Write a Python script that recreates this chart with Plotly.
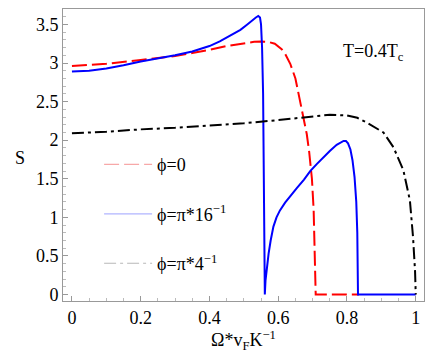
import plotly.graph_objects as go

# phi = 0 (red dashed)
x_phi0 = [0, 0.1, 0.2, 0.3, 0.35, 0.4, 0.45, 0.5, 0.53, 0.55, 0.57, 0.59, 0.6, 0.61, 0.62, 0.635,
          0.65, 0.664, 0.675, 0.683, 0.69, 0.698, 0.703, 0.707, 0.709, 0.75, 0.8, 0.835]
s_phi0 = [2.96, 2.99, 3.04, 3.09, 3.13, 3.17, 3.22, 3.26, 3.275, 3.28, 3.275, 3.25, 3.22, 3.18, 3.12, 2.99,
          2.8, 2.51, 2.28, 2.08, 1.85, 1.5, 1.1, 0.53, 0, 0, 0, 0]

# phi = pi/16 (blue solid)
x_phi16 = [0, 0.05, 0.1, 0.15, 0.2, 0.25, 0.3, 0.35, 0.4, 0.43, 0.46, 0.49, 0.51, 0.525, 0.535,
           0.542, 0.547, 0.55, 0.553, 0.556, 0.558, 0.5595, 0.561, 0.563, 0.567, 0.572, 0.578, 0.586,
           0.595, 0.605, 0.62, 0.635, 0.654, 0.675, 0.693, 0.712, 0.731, 0.75, 0.77, 0.78, 0.79,
           0.797, 0.803, 0.81, 0.816, 0.822, 0.827, 0.83, 0.832, 0.9, 1.0]
s_phi16 = [2.89, 2.9, 2.93, 2.97, 3.02, 3.06, 3.1, 3.15, 3.22, 3.28, 3.35, 3.43, 3.5, 3.56, 3.59,
           3.61, 3.59, 3.5, 3.2, 2.6, 1.6, 0.8, 0, 0.18, 0.36, 0.53, 0.7, 0.88,
           1.0, 1.09, 1.19, 1.28, 1.38, 1.49, 1.6, 1.69, 1.78, 1.86, 1.94, 1.97, 1.99,
           1.99, 1.96, 1.88, 1.74, 1.52, 1.2, 0.8, 0, 0, 0]

# phi = pi/4 (black dash-dot)
x_phi4 = [0, 0.1, 0.2, 0.3, 0.4, 0.5, 0.6, 0.7, 0.75, 0.8, 0.83, 0.857, 0.88, 0.906, 0.935,
          0.964, 0.983, 0.992, 0.998, 1.0]
s_phi4 = [2.09, 2.11, 2.14, 2.16, 2.19, 2.22, 2.26, 2.31, 2.33, 2.32, 2.29, 2.23, 2.17, 2.1, 1.91,
          1.61, 1.22, 0.75, 0.3, 0]

FONT = "Liberation Serif, Times New Roman, serif"
f18 = dict(family=FONT, size=18, color="black")

fig = go.Figure()

fig.add_trace(go.Scatter(x=x_phi0, y=s_phi0, mode="lines", showlegend=False,
                         line=dict(color="red", width=2, dash="15px,5px")))
fig.add_trace(go.Scatter(x=x_phi16, y=s_phi16, mode="lines", showlegend=False,
                         line=dict(color="blue", width=2)))
fig.add_trace(go.Scatter(x=x_phi4, y=s_phi4, mode="lines", showlegend=False,
                         line=dict(color="black", width=2, dash="12px,4px,3px,4px")))

# legend entries (faded, like the original)
fig.add_trace(go.Scatter(x=[None], y=[None], mode="lines", name="ϕ=0", legendgroup="a",
                         line=dict(color="#f7a8a8", width=1.2, dash="15px,5px")))
fig.add_trace(go.Scatter(x=[None], y=[None], mode="lines", name="ϕ=π*16<sup>−1</sup>", legendgroup="b",
                         line=dict(color="#b0b4ff", width=1.2)))
fig.add_trace(go.Scatter(x=[None], y=[None], mode="lines", name="ϕ=π*4<sup>−1</sup>", legendgroup="c",
                         line=dict(color="#b8b8b8", width=1.2, dash="12px,4px,3px,4px")))

fig.add_annotation(x=0.77, y=0.85, xref="paper", yref="paper", showarrow=False,
                   xanchor="left", yanchor="middle",
                   text="T=0.4T<sub>c</sub>", font=f18)
# upright y label
fig.add_annotation(x=-0.118, y=0.49, xref="paper", yref="paper", showarrow=False,
                   xanchor="center", yanchor="middle", text="S", font=f18)

# page body has an 8px margin, so the figure is 8px smaller than the window
fig.update_layout(
    width=428, height=345,
    margin=dict(l=55, r=12, t=1, b=52),
    paper_bgcolor="white", plot_bgcolor="white",
    font=f18,
    legend=dict(x=0.10, y=0.53, xanchor="left", yanchor="top", bgcolor="rgba(0,0,0,0)",
                tracegroupgap=23, itemwidth=48, font=f18),
)

fig.update_xaxes(range=[-0.026, 1.024], tickvals=[0, 0.2, 0.4, 0.6, 0.8, 1],
                 ticktext=["0", "0.2", "0.4", "0.6", "0.8", "1"], tickfont=f18,
                 showgrid=False, zeroline=False, showline=True, mirror=True,
                 linecolor="#999999", linewidth=1, ticks="inside", ticklen=5, tickcolor="#999999",
                 minor=dict(ticks="inside", ticklen=3, dtick=0.05, tickcolor="#bbbbbb"),
                 title=dict(text="Ω*v<sub>F</sub>K<sup>−1</sup>", standoff=9, font=f18))
fig.update_yaxes(range=[-0.084, 3.7], tickvals=[0, 0.5, 1, 1.5, 2, 2.5, 3, 3.5],
                 ticktext=["0", "0.5", "1", "1.5", "2", "2.5", "3", "3.5"], tickfont=f18,
                 showgrid=False, zeroline=False, showline=True, mirror=True,
                 linecolor="#999999", linewidth=1, ticks="inside", ticklen=5, tickcolor="#999999",
                 minor=dict(ticks="inside", ticklen=3, dtick=0.1, tickcolor="#bbbbbb"))

fig.write_html("out.html")
